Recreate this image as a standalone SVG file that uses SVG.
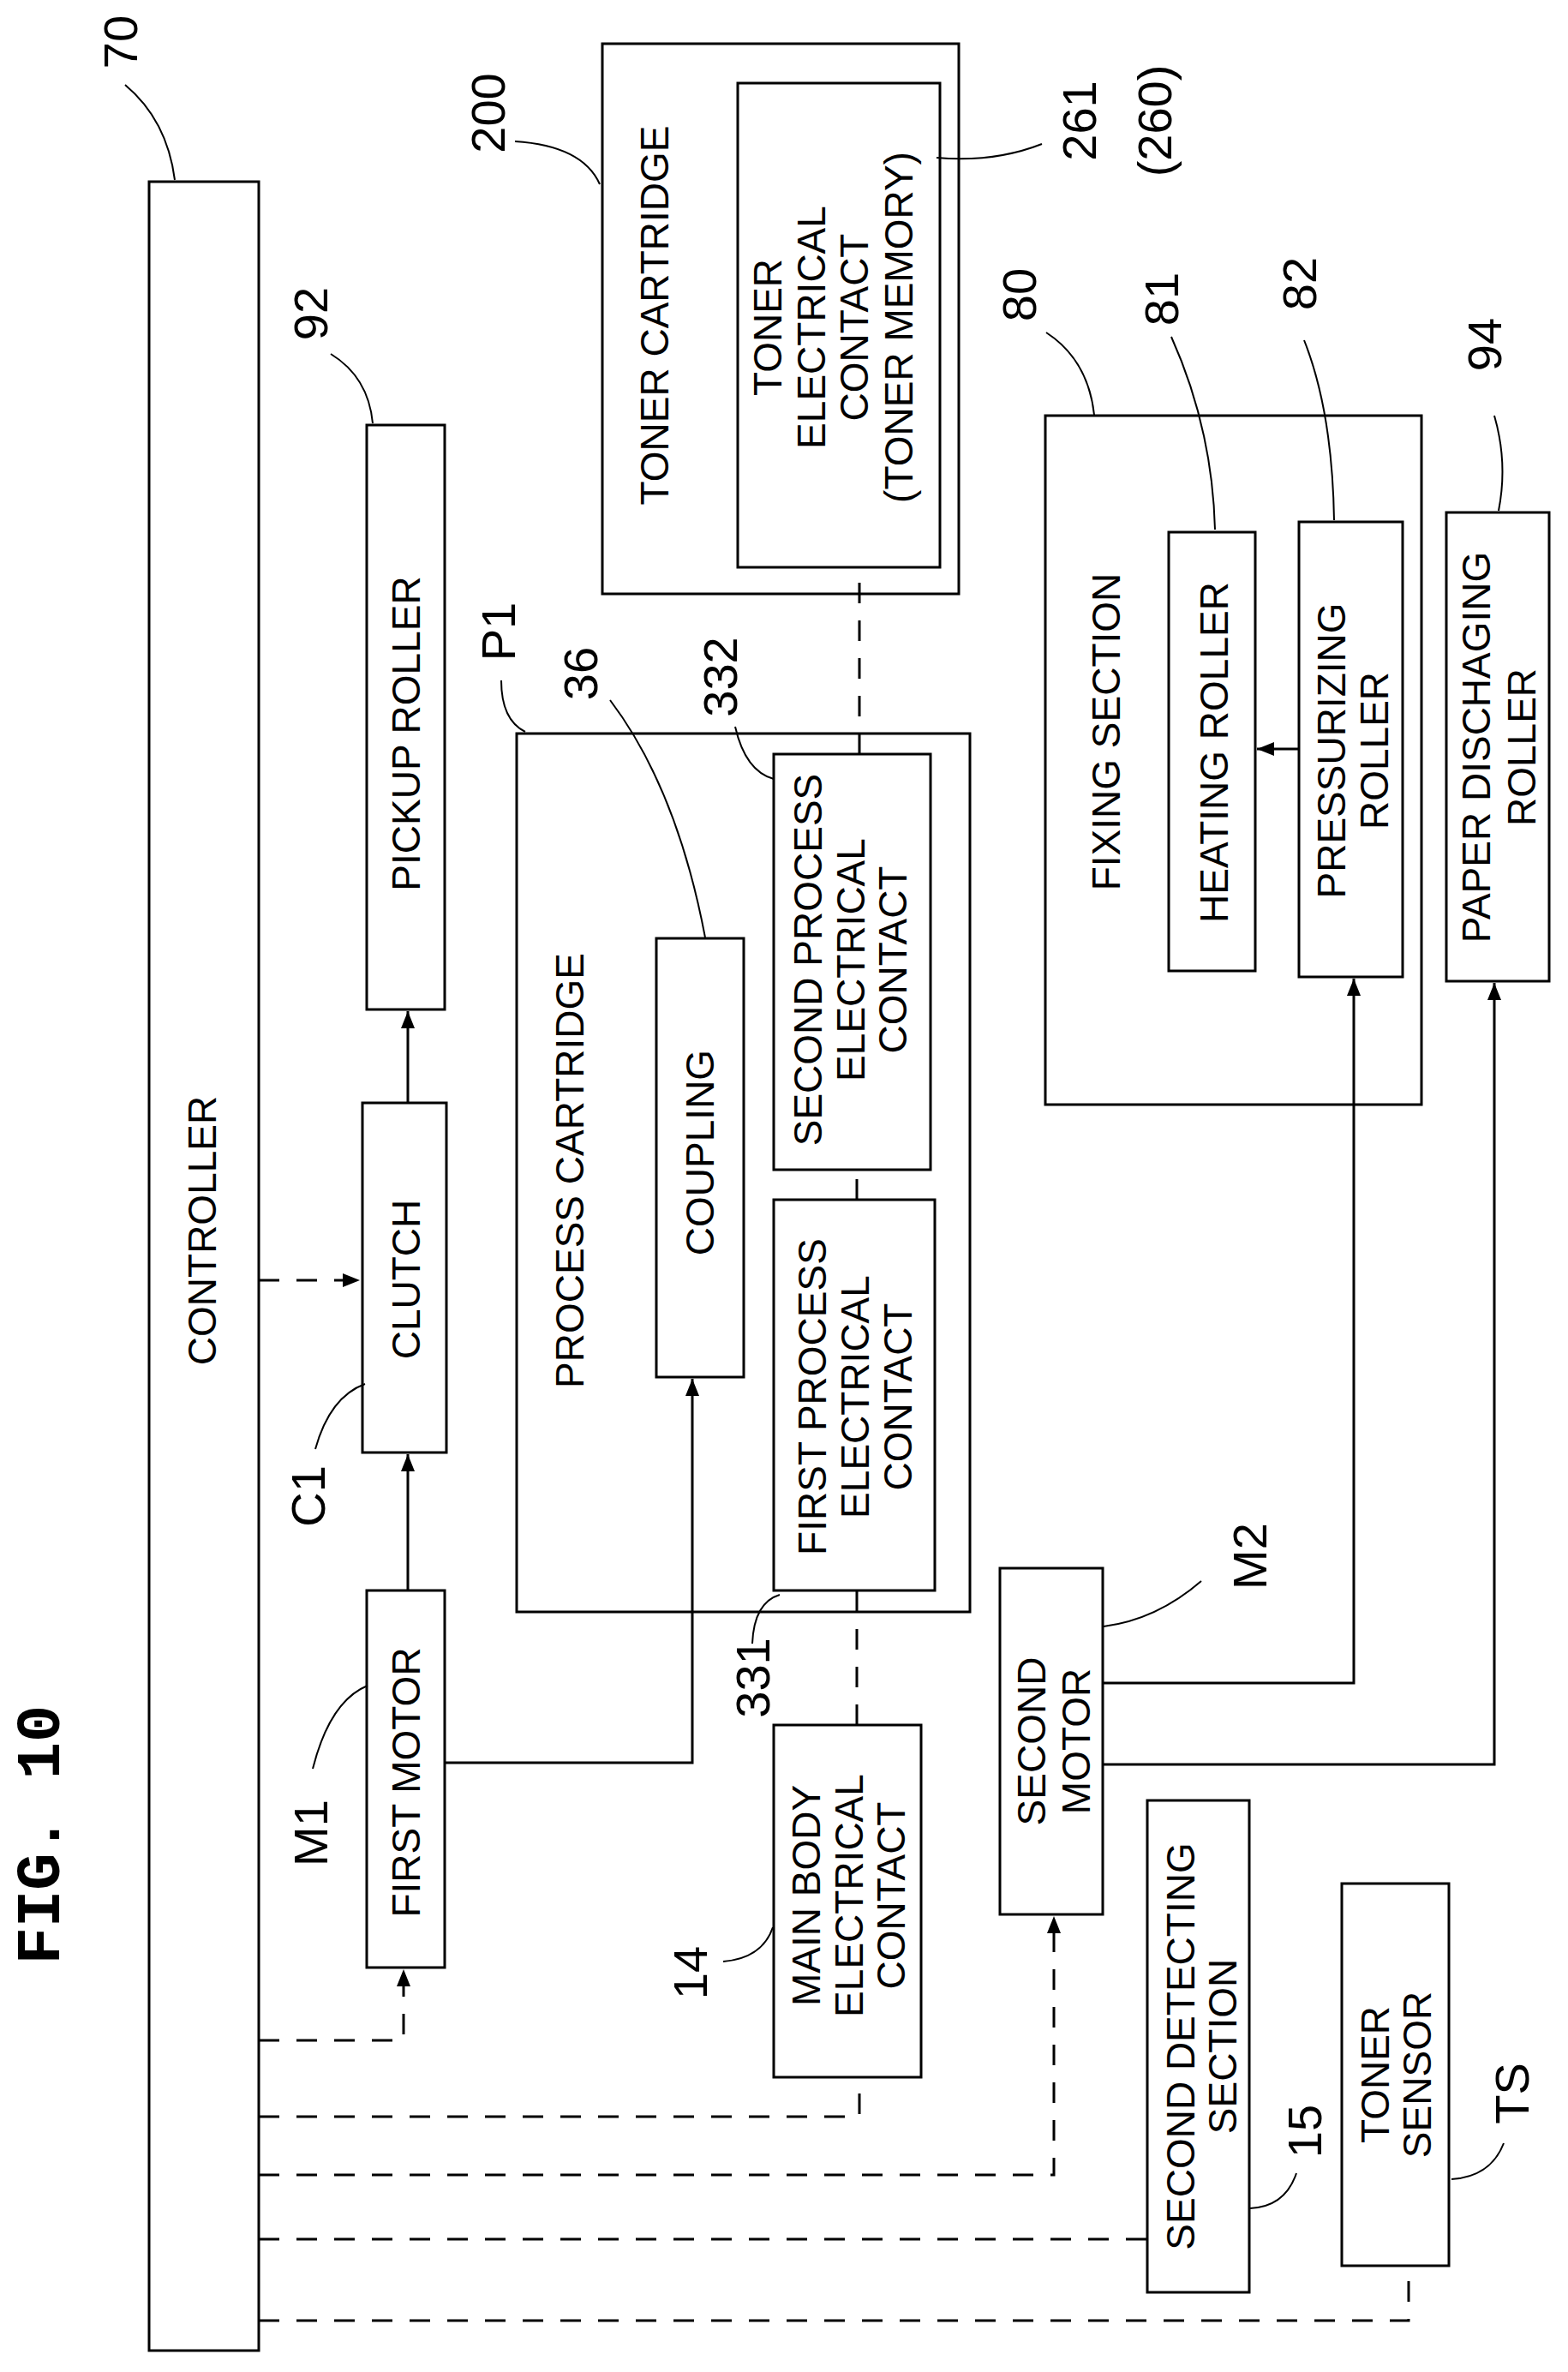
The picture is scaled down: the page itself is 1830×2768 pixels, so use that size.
<svg xmlns="http://www.w3.org/2000/svg" width="1830" height="2768" viewBox="0 0 1830 2768">
<style>
.b{fill:#fff;stroke:#000;stroke-width:3}
.t{font-family:"Liberation Sans Narrow","Liberation Sans",sans-serif;font-size:46px;text-anchor:middle;dominant-baseline:central;fill:#000}
.n{font-family:"Liberation Sans",sans-serif;font-size:56px;text-anchor:middle;dominant-baseline:central;fill:#000}
.l{fill:none;stroke:#000;stroke-width:2}
.c{fill:none;stroke:#000;stroke-width:3}
.d{fill:none;stroke:#000;stroke-width:3;stroke-dasharray:24 20}
</style>
<defs>
<marker id="a" markerUnits="userSpaceOnUse" markerWidth="20" markerHeight="20" viewBox="0 0 20 20" refX="20" refY="10" orient="auto"><path d="M0,2 L20,10 L0,18 Z" fill="#000"/></marker>
</defs>
<rect width="1830" height="2768" fill="#fff"/>
<text x="50" y="2141" transform="rotate(-90 50 2141)" style="font-family:'Liberation Mono',monospace;font-weight:bold;font-size:72px;text-anchor:middle;dominant-baseline:central">FIG. 10</text>

<g id="controller"><rect class="b" x="174" y="212" width="128" height="2531"/><text class="t" transform="translate(236,1436) rotate(-90)">CONTROLLER</text>
<text class="n" transform="translate(140,49) rotate(-90)">70</text><path class="l" d="M146,99 Q195,140 204,210"/></g>
<g id="pickup"><rect class="b" x="428" y="496" width="91" height="682"/><text class="t" transform="translate(474,856) rotate(-90)">PICKUP ROLLER</text>
<text class="n" transform="translate(362,366) rotate(-90)">92</text><path class="l" d="M386,413 Q430,440 435,494"/></g>
<g id="clutch"><rect class="b" x="423" y="1287" width="98" height="408"/><text class="t" transform="translate(474,1493) rotate(-90)">CLUTCH</text>
<text class="n" transform="translate(359,1746) rotate(-90)">C1</text><path class="l" d="M368,1691 Q385,1630 426,1615"/></g>
<g id="m1"><rect class="b" x="428" y="1856" width="91" height="440"/><text class="t" transform="translate(474,2080) rotate(-90)">FIRST MOTOR</text>
<text class="n" transform="translate(362,2139) rotate(-90)">M1</text><path class="l" d="M365,2064 Q385,1985 429,1967"/></g>
<g id="toner"><rect class="b" x="703" y="51" width="416" height="642"/><text class="t" transform="translate(764,368) rotate(-90)">TONER CARTRIDGE</text>
<text class="n" transform="translate(569,132) rotate(-90)">200</text><path class="l" d="M601,165 Q680,170 700,215"/></g>
<g id="tonercontact"><rect class="b" x="861" y="97" width="236" height="565"/>
<text class="t" transform="translate(896,382) rotate(-90)">TONER</text>
<text class="t" transform="translate(947,382) rotate(-90)">ELECTRICAL</text>
<text class="t" transform="translate(997,382) rotate(-90)">CONTACT</text>
<text class="t" transform="translate(1049,382) rotate(-90)">(TONER MEMORY)</text>
<text class="n" transform="translate(1259,141) rotate(-90)">261</text><text class="n" transform="translate(1347,141) rotate(-90)">(260)</text>
<path class="l" d="M1093,184 Q1160,190 1216,168"/></g>
<g id="process"><rect class="b" x="603" y="856" width="529" height="1025"/><text class="t" transform="translate(665,1366) rotate(-90)">PROCESS CARTRIDGE</text>
<text class="n" transform="translate(581,737) rotate(-90)">P1</text><path class="l" d="M585,794 Q585,840 613,854"/></g>
<g id="coupling"><rect class="b" x="766" y="1095" width="102" height="512"/><text class="t" transform="translate(817,1345) rotate(-90)">COUPLING</text>
<text class="n" transform="translate(677,786) rotate(-90)">36</text><path class="l" d="M712,817 Q790,920 823,1094"/></g>
<g id="contact2"><rect class="b" x="903" y="880" width="183" height="485"/>
<text class="t" transform="translate(943,1120) rotate(-90)">SECOND PROCESS</text>
<text class="t" transform="translate(993,1120) rotate(-90)">ELECTRICAL</text>
<text class="t" transform="translate(1042,1120) rotate(-90)">CONTACT</text>
<text class="n" transform="translate(840,790) rotate(-90)">332</text><path class="l" d="M858,848 Q870,900 903,909"/></g>
<g id="contact1"><rect class="b" x="903" y="1400" width="188" height="456"/>
<text class="t" transform="translate(948,1630) rotate(-90)">FIRST PROCESS</text>
<text class="t" transform="translate(998,1630) rotate(-90)">ELECTRICAL</text>
<text class="t" transform="translate(1048,1630) rotate(-90)">CONTACT</text>
<text class="n" transform="translate(878,1958) rotate(-90)">331</text><path class="l" d="M878,1918 Q880,1870 910,1861"/></g>
<g id="mainbody"><rect class="b" x="903" y="2013" width="172" height="411"/>
<text class="t" transform="translate(941,2212) rotate(-90)">MAIN BODY</text>
<text class="t" transform="translate(991,2212) rotate(-90)">ELECTRICAL</text>
<text class="t" transform="translate(1040,2212) rotate(-90)">CONTACT</text>
<text class="n" transform="translate(805,2302) rotate(-90)">14</text><path class="l" d="M844,2289 Q890,2285 902,2249"/></g>
<g id="fixing"><rect class="b" x="1220" y="485" width="439" height="804"/><text class="t" transform="translate(1291,854) rotate(-90)">FIXING SECTION</text>
<text class="n" transform="translate(1189,344) rotate(-90)">80</text><path class="l" d="M1221,388 Q1270,420 1277,484"/></g>
<g id="heating"><rect class="b" x="1364" y="621" width="101" height="512"/><text class="t" transform="translate(1417,878) rotate(-90)">HEATING ROLLER</text>
<text class="n" transform="translate(1355,349) rotate(-90)">81</text><path class="l" d="M1367,393 Q1415,500 1418,618"/></g>
<g id="pressurizing"><rect class="b" x="1516" y="609" width="121" height="531"/>
<text class="t" transform="translate(1554,876) rotate(-90)">PRESSURIZING</text>
<text class="t" transform="translate(1604,876) rotate(-90)">ROLLER</text>
<text class="n" transform="translate(1516,331) rotate(-90)">82</text><path class="l" d="M1522,397 Q1555,480 1557,607"/></g>
<g id="discharge"><rect class="b" x="1688" y="598" width="120" height="547"/>
<text class="t" transform="translate(1723,872) rotate(-90)">PAPER DISCHAGING</text>
<text class="t" transform="translate(1776,872) rotate(-90)">ROLLER</text>
<text class="n" transform="translate(1732,402) rotate(-90)">94</text><path class="l" d="M1744,485 Q1760,540 1749,596"/></g>
<g id="m2"><rect class="b" x="1167" y="1830" width="120" height="404"/>
<text class="t" transform="translate(1204,2032) rotate(-90)">SECOND</text>
<text class="t" transform="translate(1256,2032) rotate(-90)">MOTOR</text>
<text class="n" transform="translate(1458,1816) rotate(-90)">M2</text><path class="l" d="M1288,1898 Q1350,1890 1402,1845"/></g>
<g id="detect"><rect class="b" x="1339" y="2101" width="119" height="574"/>
<text class="t" transform="translate(1378,2388) rotate(-90)">SECOND DETECTING</text>
<text class="t" transform="translate(1427,2388) rotate(-90)">SECTION</text>
<text class="n" transform="translate(1522,2487) rotate(-90)">15</text><path class="l" d="M1459,2577 Q1500,2575 1513,2536"/></g>
<g id="tonersensor"><rect class="b" x="1566" y="2198" width="125" height="446"/>
<text class="t" transform="translate(1605,2421) rotate(-90)">TONER</text>
<text class="t" transform="translate(1654,2421) rotate(-90)">SENSOR</text>
<text class="n" transform="translate(1764,2443) rotate(-90)">TS</text><path class="l" d="M1694,2543 Q1740,2540 1755,2501"/></g>

<g id="connectors">
<path class="d" d="M302,1494 H420" marker-end="url(#a)"/>
<path class="c" d="M476,1856 V1697" marker-end="url(#a)"/>
<path class="c" d="M476,1287 V1180" marker-end="url(#a)"/>
<path class="d" d="M302,2381 H471 V2298" marker-end="url(#a)"/>
<path class="c" d="M519,2057 H808 V1609" marker-end="url(#a)"/>
<path class="c" d="M1287,1964 H1580 V1142" marker-end="url(#a)"/>
<path class="c" d="M1287,2059 H1744 V1147" marker-end="url(#a)"/>
<path class="c" d="M1516,874 H1467" marker-end="url(#a)"/>
<path class="d" d="M302,2470 H1003 V2424"/>
<path class="d" d="M1000,2013 V1856"/>
<path class="d" d="M1000,1400 V1365"/>
<path class="d" d="M1003,880 V662"/>
<path class="d" d="M302,2538 H1230 V2236" marker-end="url(#a)"/>
<path class="d" d="M302,2613 H1339"/>
<path class="d" d="M302,2708 H1644 V2644"/>
</g>
</svg>
